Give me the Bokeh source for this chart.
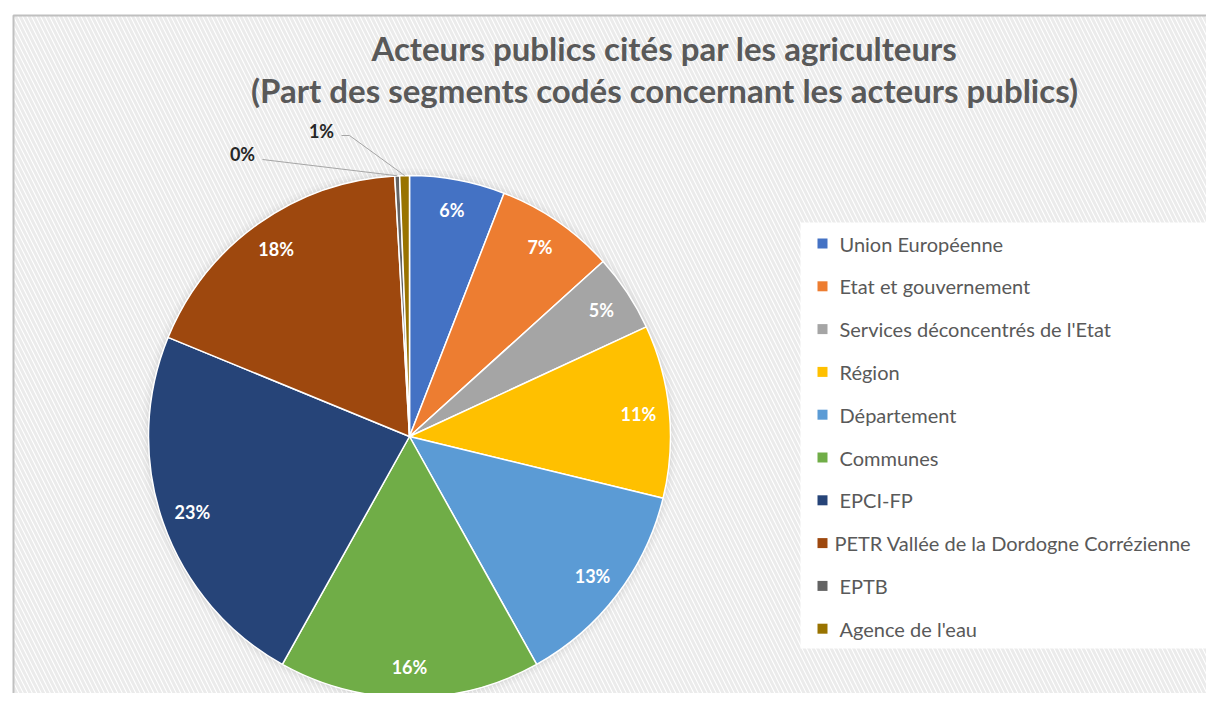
import math
from bokeh.plotting import figure
from bokeh.models import ColumnDataSource, Range1d
from bokeh.core.properties import value
from bokeh.embed import file_html
from bokeh.resources import INLINE

# ---------------- data ----------------
title_lines = ["Acteurs publics cités par les agriculteurs",
               "(Part des segments codés concernant les acteurs publics)"]
categories = ["Union Européenne", "Etat et gouvernement", "Services déconcentrés de l'Etat",
              "Région", "Département", "Communes", "EPCI-FP",
              "PETR Vallée de la Dordogne Corrézienne", "EPTB", "Agence de l'eau"]
shares = [5.9, 7.4, 4.8, 10.7, 13.1, 16.2, 23.1, 17.9, 0.3, 0.6]
colors = ["#4472C4", "#ED7D31", "#A5A5A5", "#FFC000", "#5B9BD5",
          "#70AD47", "#264478", "#9E480E", "#636363", "#997300"]

# ---------------- layout (pixels) ----------------
W, H = 1206, 693
def X(px):  # picture x -> data x
    return px
def Y(py):  # picture y -> data y
    return H - py

CX, CY, R = X(409), Y(436), 261
LABEL_R = 230
FONT = "Lato"

p = figure(width=W, height=H, output_backend="svg", toolbar_location=None,
           x_range=Range1d(0, W), y_range=Range1d(0, H),
           x_axis_type=None, y_axis_type=None, min_border=0)
p.outline_line_color = None
p.xgrid.visible = False
p.ygrid.visible = False
p.background_fill_color = "white"
p.border_fill_color = "white"

# chart area with diagonal stripes and grey frame
p.quad(left=X(13), right=W + 20, top=Y(15), bottom=-20,
       fill_color="white", hatch_pattern="\\", hatch_color="#ebebeb",
       hatch_scale=9, hatch_weight=3, line_color="#c0c0c0", line_width=2)

# soft shadow around pie
for dr, a in [(7, 0.03), (4, 0.04), (2, 0.05)]:
    p.circle(x=[CX], y=[CY], radius=R + dr, fill_color="#7f7f7f", fill_alpha=a, line_color=None)

# wedges
total = sum(shares)
cum = [0.0]
for v in shares:
    cum.append(cum[-1] + v / total)
start = [math.pi / 2 - 2 * math.pi * c for c in cum[:-1]]
end = [math.pi / 2 - 2 * math.pi * c for c in cum[1:]]
mid = [(s + e) / 2 for s, e in zip(start, end)]
labels = [f"{v / total * 100:.0f}%" for v in shares]

src = ColumnDataSource(dict(cat=categories, share=shares, color=colors,
                            start=start, end=end, label=labels))
p.wedge(x=CX, y=CY, radius=R, start_angle="start", end_angle="end", direction="clock",
        fill_color="color", line_color="white", line_width=1.5, source=src)

# inside labels (large slices)
inside = [i for i, v in enumerate(shares) if v / total >= 0.03]
p.text(x=[CX + LABEL_R * math.cos(mid[i]) for i in inside],
       y=[CY + LABEL_R * math.sin(mid[i]) for i in inside],
       text=[labels[i] for i in inside],
       text_color="white", text_font=value(FONT), text_font_style="bold",
       text_font_size="18px", text_align="center", text_baseline="middle")

# outside labels with leader lines (small slices)
outside = [i for i, v in enumerate(shares) if v / total < 0.03]
out_pos = {8: [(242, 153), (262, 159)], 9: [(321, 130), (341, 135), (349, 135)]}
for i in outside:
    (lx, ly), *pts = out_pos[i]
    ex = CX + R * math.cos(mid[i])
    ey = CY + R * math.sin(mid[i])
    p.line(x=[X(a) for a, b in pts] + [ex], y=[Y(b) for a, b in pts] + [ey],
           line_color="#a6a6a6", line_width=1)
    p.text(x=[X(lx)], y=[Y(ly)], text=[labels[i]], text_color="#262626",
           text_font=value(FONT), text_font_style="bold", text_font_size="18px",
           text_align="center", text_baseline="middle")

# title
p.text(x=[X(664), X(664)], y=[Y(47), Y(89)], text=title_lines,
       text_color="#595959", text_font=value(FONT), text_font_style="bold",
       text_font_size="33px", text_align="center", text_baseline="middle")

# legend
p.quad(left=X(800), right=X(1218), top=Y(222), bottom=Y(648),
       fill_color="white", line_color=None)
n = len(categories)
leg_y = [Y(243 + i * 42.8) for i in range(n)]
leg_text_x = [X(834) if len(c) > 32 else X(839) for c in categories]
p.scatter(x=[X(822)] * n, y=leg_y, marker="square", size=10,
          fill_color=colors, line_color=None)
p.text(x=leg_text_x, y=leg_y, text=categories,
       text_color="#595959", text_font=value(FONT), text_font_size="20px",
       text_align="left", text_baseline="middle")

open("out.html", "w").write(file_html(p, INLINE))
